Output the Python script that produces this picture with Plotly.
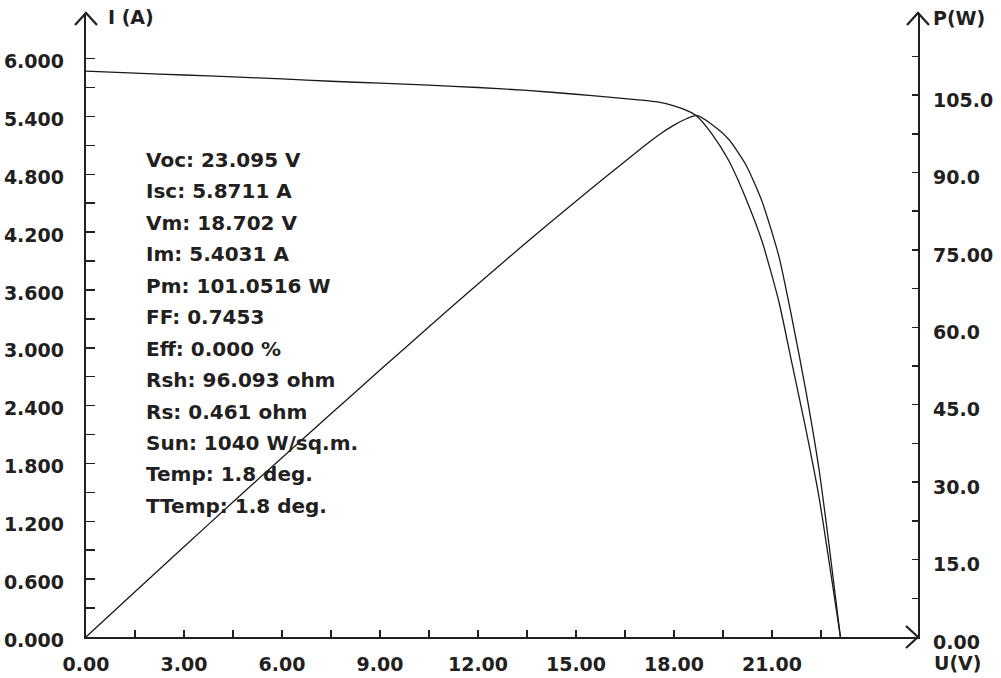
import plotly.graph_objects as go

# ---- data ----
voltage = [0, 1.5, 3, 4.5, 6, 7.5, 9, 10.5, 12, 13.5, 15, 16, 17, 17.5, 18, 18.4,
           18.702, 19.16, 19.68, 20.2, 20.69, 21.21, 21.61, 22.04, 22.44, 22.74, 23.095]
current = [5.871, 5.85, 5.83, 5.81, 5.79, 5.765, 5.745, 5.725, 5.70, 5.67, 5.63, 5.60,
           5.57, 5.55, 5.51, 5.46, 5.403, 5.22, 4.94, 4.55, 4.11, 3.48, 2.84, 2.15,
           1.45, 0.80, 0.0]
power = [0, 8.78, 17.49, 26.15, 34.74, 43.24, 51.71, 60.11, 68.4, 76.55, 84.45, 89.6,
         94.69, 97.13, 99.18, 100.46, 101.05, 99.3, 96.4, 91.5, 84.5, 73.8, 61.8,
         47.6, 32.5, 18.2, 0.0]

x_tick_vals = [0, 1.5, 3, 4.5, 6, 7.5, 9, 10.5, 12, 13.5, 15, 16.5, 18, 19.5, 21, 22.5]
x_tick_text = ["0.00", "", "3.00", "", "6.00", "", "9.00", "", "12.00", "", "15.00", "",
               "18.00", "", "21.00", ""]
i_tick_vals = [0, 0.3, 0.6, 0.9, 1.2, 1.5, 1.8, 2.1, 2.4, 2.7, 3.0, 3.3, 3.6, 3.9, 4.2,
               4.5, 4.8, 5.1, 5.4, 5.7, 6.0]
i_tick_text = ["0.000", "", "0.600", "", "1.200", "", "1.800", "", "2.400", "", "3.000", "",
               "3.600", "", "4.200", "", "4.800", "", "5.400", "", "6.000"]
p_tick_vals = [0, 7.5, 15, 22.5, 30, 37.5, 45, 52.5, 60, 67.5, 75, 82.5, 90, 97.5, 105, 112.5]
p_tick_text = ["0.00", "", "15.0", "", "30.0", "", "45.0", "", "60.0", "", "75.00", "",
               "90.0", "", "105.0", ""]

stats = ["Voc: 23.095 V", "Isc: 5.8711 A", "Vm: 18.702 V", "Im: 5.4031 A",
         "Pm: 101.0516 W", "FF: 0.7453", "Eff: 0.000 %", "Rsh: 96.093 ohm",
         "Rs: 0.461 ohm", "Sun: 1040 W/sq.m.", "Temp: 1.8 deg.", "TTemp: 1.8 deg."]

# ---- layout geometry (pixels) ----
W, H = 1001, 678
L, R, T, B = 86, 83, 13, 41
PW, PH = W - L - R, H - T - B
INK = "#231f20"
FONT = "DejaVu Sans"

def px_x(x):
    return (x - L) / PW

def px_y(y):
    return (H - B - y) / PH

fig = go.Figure()
fig.add_trace(go.Scatter(x=voltage, y=current, mode="lines",
                         line=dict(color="#1a1a1a", width=1.3, shape="spline", smoothing=0.6),
                         yaxis="y", hoverinfo="skip"))
fig.add_trace(go.Scatter(x=voltage, y=power, mode="lines",
                         line=dict(color="#1a1a1a", width=1.3, shape="spline", smoothing=0.6),
                         yaxis="y2", hoverinfo="skip"))

axis_common = dict(showgrid=False, zeroline=False, showline=True, linecolor=INK, linewidth=2.2,
                   ticks="inside", tickcolor=INK, tickwidth=1.5, automargin=False,
                   fixedrange=True,
                   tickfont=dict(family=FONT, size=19, color=INK, weight="bold"))

fig.update_layout(
    width=W, height=H,
    margin=dict(l=L, r=R, t=T, b=B, pad=0, autoexpand=False),
    paper_bgcolor="white", plot_bgcolor="white",
    showlegend=False,
    xaxis=dict(range=[0, 25.47], tickmode="array", tickvals=x_tick_vals, ticktext=x_tick_text,
               ticklen=7, ticklabelstandoff=9, **axis_common),
    yaxis=dict(range=[0, 6.473], tickmode="array", tickvals=i_tick_vals, ticktext=i_tick_text,
               ticklen=9, ticklabelstandoff=16, ticklabelshift=3, **axis_common),
    yaxis2=dict(range=[0, 120.9], overlaying="y", side="right", tickmode="array",
                tickvals=p_tick_vals, ticktext=p_tick_text, ticklen=6,
                ticklabelstandoff=9, ticklabelshift=5, **axis_common),
)

# arrowheads (open chevrons) at axis ends
shapes = []
def chevron(p1, tip, p2):
    return dict(type="path", xref="paper", yref="paper",
                path=f"M {px_x(p1[0])},{px_y(p1[1])} L {px_x(tip[0])},{px_y(tip[1])} L {px_x(p2[0])},{px_y(p2[1])}",
                line=dict(color=INK, width=2.2), layer="above")
shapes.append(chevron((75, 25), (86, 13), (97, 25)))
shapes.append(chevron((907, 25), (918, 13), (929, 25)))
shapes.append(chevron((906, 626), (918, 637), (906, 648)))
fig.update_layout(shapes=shapes)

ann = []
tfont = dict(family=FONT, size=19, color=INK, weight="bold")
ann.append(dict(text="I (A)", x=px_x(106), y=px_y(17), xref="paper", yref="paper", showarrow=False,
                xanchor="left", yanchor="middle", font=tfont))
ann.append(dict(text="P(W)", x=px_x(931), y=px_y(18), xref="paper", yref="paper", showarrow=False,
                xanchor="left", yanchor="middle", font=tfont))
ann.append(dict(text="U(V)", x=px_x(932), y=px_y(663), xref="paper", yref="paper", showarrow=False,
                xanchor="left", yanchor="middle", font=tfont))
for i, s in enumerate(stats):
    ann.append(dict(text=s, x=px_x(144), y=px_y(160 + i * 31.45), xref="paper", yref="paper",
                    showarrow=False, xanchor="left", yanchor="middle",
                    font=dict(family=FONT, size=20, color=INK, weight="bold")))
fig.update_layout(annotations=ann)

fig.write_html(
    "out.html",
    config={"displayModeBar": False, "staticPlot": True},
    post_script="document.body.style.margin='0';document.body.style.overflow='hidden';"
                "document.documentElement.style.overflow='hidden';",
)
